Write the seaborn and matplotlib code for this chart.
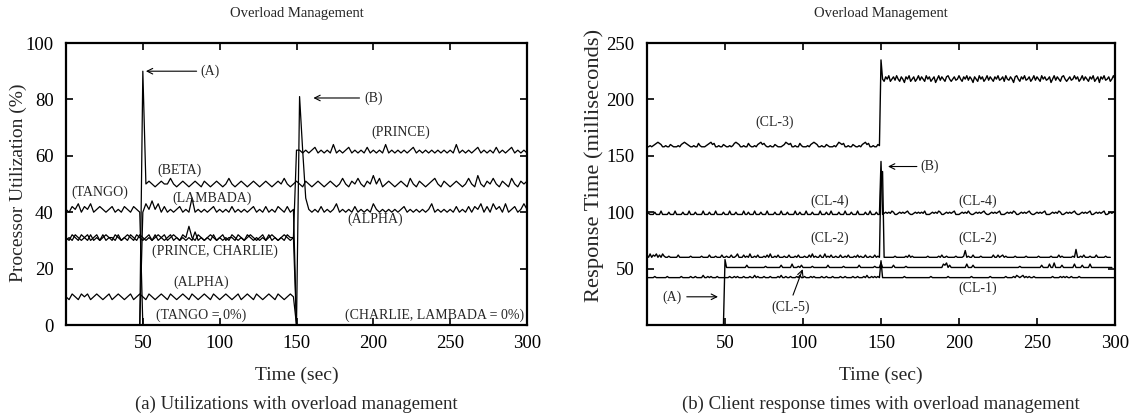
import numpy as np
import pandas as pd
import matplotlib
matplotlib.use("Agg")
import matplotlib.pyplot as plt
import seaborn as sns

# ---------------- data: (a) processor utilization (%), sampled every 2 s ----------------
STEP_A = 2
TANGO_T0 = 0
TANGO = [41,40,42,41,43,40,42,41,43,40,41,42,41,40,41,42,40,41,40,42,41,40,42,41,40,0]
LAMBADA_T0 = 48
LAMBADA = [0,
           40,43,41,44,41,43,40,42,40,41, 40,41,42,40,41,40,45,40,41,40,
           41,40,41,42,40,41,40,41,40,42, 40,41,40,41,40,41,42,40,41,40,
           42,40,41,40,42,41,40,42,40,41,
           0]
PRINCE_T0 = 0
PRINCE = [31,30,32,31,30,32,31,32,30,31, 32,30,31,32,31,30,32,31,30,31,
          32,31,30,32,31,30,31,32,30,31, 32,31,30,31,32,30,31,30,32,31,
          35,31,30,32,31,30,31,32,31,30, 31,32,30,31,31,30,32,31,30,31,
          32,31,30,31,32,30,31,32,31,30, 31,32,31,30,31,
          62,62,61,62,61,62,63,61,62,61, 62,61,64,61,62,61,62,63,61,62,
          61,62,61,63,61,62,61,62,61,64, 61,62,61,62,61,62,61,62,63,61,
          62,61,62,61,62,61,62,61,62,61, 62,61,64,61,62,61,62,61,62,63,
          61,62,61,62,61,63,61,62,61,62, 63,61,62,61,62,61]
CHARLIE_T0 = 0
CHARLIE = [30,31,30,32,31,30,31,30,32,30, 31,30,32,30,31,31,30,32,30,31,
           30,32,31,30,32,31,30,31,30,32, 30,31,32,30,31,32,31,30,31,30,
           31,30,33,30,31,30,31,30,32,30, 31,30,31,30,32,31,30,31,30,32,
           31,30,31,30,31,30,32,30,31,30, 31,30,32,31,31,
           0]
ALPHA_T0 = 0
ALPHA = [10,9,11,10,9,11,10,11,9,10, 11,10,9,10,11,9,10,11,10,9,
         10,11,9,10,11,10,9,11,10,9, 10,11,10,9,11,10,9,10,11,10,
         9,11,10,9,10,11,10,9,11,10, 9,10,11,10,9,10,11,9,10,11,
         10,9,11,10,9,10,11,10,9,11, 10,9,10,11,10,
         0,81,62,45,
         41,40,41,40,42,40,41,40,41,43, 40,41,40,41,40,42,40,41,40,41,
         40,43,41,40,41,40,41,40,41,40, 41,42,40,41,40,41,40,41,40,41,
         43,40,41,40,41,40,41,40,42,40, 41,40,42,40,42,41,43,40,42,40,
         43,41,42,40,43,40,41,42,40,41, 43,41]
BETA_T0 = 48
BETA = [0, 90,
        50,51,50,49,50,51,50,50,52,50, 49,50,51,50,49,50,51,50,49,51,
        50,49,50,51,50,49,50,52,50,49, 50,51,50,49,50,51,50,49,50,51,
        50,49,50,51,50,52,50,49,50,51, 50,49,51,50,49,50,51,50,49,50,
        51,50,49,50,52,50,49,51,50,52, 50,49,51,50,53,50,52,49,50,51,
        50,49,50,51,50,49,52,50,49,51, 50,49,50,51,52,50,49,51,50,49,
        50,51,50,49,50,52,50,49,53,50, 49,51,50,52,50,49,51,50,49,52,
        50,49,51,50,51]

# ---------------- data: (b) client response times (ms), sampled every 1 s ----------------
STEP_B = 1
CL3_T0 = 0
CL3 = [158,158,159,158,159,160,161,162,161,160,158,158,159,158,158,160,159,158,158,158,159,158,160,161,162,
       161,160,159,158,158,159,158,158,161,159,158,158,158,159,160,161,162,160,161,158,158,159,158,158,160,
       159,158,158,159,158,159,161,162,161,160,158,158,159,158,158,161,159,158,158,159,158,160,161,162,160,
       161,159,158,158,159,158,158,160,159,158,158,158,159,160,162,161,160,161,158,158,159,158,158,161,159,
       158,158,158,159,158,160,161,162,161,160,158,158,159,158,158,160,159,158,158,158,159,158,160,162,161,
       160,161,158,158,159,158,158,160,159,158,158,159,158,160,161,162,160,161,158,158,159,158,158,160,159,
       235,
       218,216,220,218,221,216,218,220,217,221,218,216,220,218,215,220,218,221,216,218,220,216,218,221,217,
       220,218,216,221,218,220,216,218,220,215,218,221,217,220,218,216,220,221,218,216,218,220,217,218,221,
       218,216,220,218,221,217,220,218,215,220,218,216,221,218,220,216,218,221,217,220,218,216,220,218,221,
       217,218,220,216,221,218,217,220,218,215,220,221,218,216,220,218,221,217,218,220,216,218,221,217,220,
       218,216,221,218,220,217,218,220,215,218,221,217,220,218,216,220,221,218,216,218,220,217,218,221,218,
       220,216,218,221,217,220,218,216,220,218,221,216,218,220,215,220,218,221,217,218,220,216,218,221,218]
CL4_T0 = 0
CL4 = [100,99,98,98,98,100,98,98,98,101,98,98,98,98,100,98,98,98,101,98,98,98,98,100,98,
       98,98,101,98,98,98,100,98,98,98,98,101,98,98,98,100,98,98,98,101,98,98,98,98,100,
       98,98,98,101,98,98,98,100,98,98,98,98,101,98,98,100,98,98,98,101,98,98,98,100,98,
       98,98,101,98,98,98,98,100,98,98,98,101,98,98,98,100,98,98,98,98,101,98,98,100,98,
       98,98,101,98,98,98,100,98,98,98,98,101,98,98,98,100,98,98,101,98,98,98,98,100,98,
       98,98,101,98,98,98,100,98,98,98,101,98,98,98,98,100,98,98,101,98,98,98,100,98,98,
       145,98,99,100,99,100,99,101,100,98,98,99,100,99,100,99,100,101,99,98,98,99,100,99,100,
       99,100,99,101,98,98,98,99,100,99,100,99,101,100,98,98,99,100,99,100,99,100,101,98,98,
       98,99,100,99,100,99,101,99,98,98,99,100,99,100,99,100,101,99,98,98,99,100,99,100,99,
       100,101,98,98,98,99,100,99,100,99,101,100,98,98,99,100,99,100,99,100,101,99,98,98,99,
       100,99,100,99,100,101,98,98,98,99,100,99,100,99,101,100,98,98,99,100,99,100,99,100,101,
       99,98,98,99,100,99,100,99,100,101,98,98,99,100,99,100,99,100,101,98,98,99,100,99,100,
       100]
CL2_T0 = 0
CL2 = [62,60,63,60,62,61,63,60,62,60,63,61,60,60,61,60,60,60,60,60,62,60,60,60,60,
       60,60,60,61,60,60,60,60,60,60,61,60,60,60,60,62,60,60,60,61,60,60,60,62,60,
       60,61,60,60,62,60,60,61,63,60,60,60,62,60,61,60,63,60,60,61,60,62,60,60,60,
       61,60,62,60,63,60,60,61,60,62,60,60,60,61,60,60,62,60,60,60,61,60,62,60,60,
       60,61,60,60,62,60,63,60,61,60,60,62,60,60,63,60,61,60,62,60,60,61,60,60,62,
       60,60,61,60,62,60,60,60,61,60,62,60,61,60,60,62,60,60,61,60,60,62,60,61,60,
       136,136,60,60,60,60,60,60,60,61,60,60,60,60,60,60,61,60,62,60,61,60,60,60,60,
       60,60,60,60,60,61,60,60,60,60,60,60,61,60,62,60,60,61,60,60,60,60,60,61,60,
       60,60,60,61,66,60,61,60,60,62,60,60,60,60,61,60,60,60,60,60,60,60,62,60,60,
       62,60,61,62,60,61,60,60,60,60,60,61,60,60,60,60,60,60,61,60,60,60,60,60,60,
       60,61,60,60,60,60,60,60,60,61,60,60,60,60,62,60,61,60,60,60,60,60,60,61,60,
       67,60,60,61,60,62,60,60,60,61,60,60,60,62,60,60,60,60,60,61,60,60,60]
CL5_T0 = 49
CL5 = [0,58,51,51,51,51,51,51,51,51,51,51,51,51,51,53,51,51,51,51,51,51,51,51,51,
       51,51,52,51,51,51,51,51,51,51,51,51,53,51,51,51,51,51,51,54,51,51,51,52,51,
       53,51,51,51,51,51,51,52,51,51,51,51,51,51,51,51,51,53,51,51,51,51,51,51,51,
       51,51,52,51,51,51,51,51,51,51,51,51,53,51,51,51,51,51,51,51,51,51,52,51,51,
       51,55,51,51,51,51,51,51,51,53,51,51,51,51,51,51,51,52,51,51,51,51,51,51,51,
       51,51,51,51,51,51,51,51,51,51,51,51,51,51,51,51,54,53,55,51,53,51,51,51,51,
       51,51,51,51,51,51,54,51,51,51,53,51,51,51,51,51,51,51,51,51,51,51,51,51,51,
       51,51,51,51,51,51,51,51,51,51,51,51,51,51,51,52,51,51,51,51,51,51,51,51,51,
       51,51,51,51,53,51,51,51,51,54,51,51,55,51,51,51,51,53,51,51,51,51,51,51,51,
       54,51,51,51,51,53,51,51,51,51,54,51,51,51,51,51,51,51,51,51,51,51,51,51,51]
CL1_T0 = 0
CL1 = [42,42,42,42,42,43,42,42,42,42,42,42,42,43,42,42,42,42,42,42,42,42,43,42,42,
       42,42,42,43,42,42,43,42,42,42,42,44,42,42,43,42,43,42,42,42,43,42,42,42,42,
       42,42,42,43,42,42,43,42,43,42,42,42,43,42,42,42,43,42,42,44,42,43,42,42,42,
       43,42,42,42,43,42,42,42,42,43,42,44,42,42,43,42,42,43,42,42,42,43,42,44,42,
       42,43,42,42,42,43,42,43,42,42,42,42,43,42,42,43,42,42,42,43,42,42,42,42,43,
       42,42,43,42,42,42,42,43,42,42,43,42,42,42,43,42,44,42,42,43,42,43,42,43,42,
       57,42,42,42,42,42,42,42,42,42,42,42,42,42,42,43,42,42,42,42,42,42,42,42,42,
       42,42,42,42,42,42,42,43,42,42,42,42,42,42,42,42,42,42,43,42,42,42,42,42,42,
       42,42,42,42,42,42,42,42,43,42,42,42,42,42,42,42,42,42,42,42,43,42,42,42,42,
       42,42,42,42,42,43,42,42,42,42,43,42,44,43,42,43,44,42,43,42,43,42,42,43,42,
       42,42,42,42,42,42,42,42,42,42,43,42,42,42,42,43,42,43,42,43,42,42,43,42,42,
       42,42,43,42,42,42,42,42,42,42,42,42,42,42,42,42,42,42,42,42,42,42,42,42,42,
       42]

XTICKS = [50, 100, 150, 200, 250, 300]
YTICKS_A = [0, 20, 40, 60, 80, 100]
YTICKS_B = [50, 100, 150, 200, 250]

TITLE = "Overload Management"
XLABEL = "Time (sec)"
YLABEL_A = "Processor Utilization (%)"
YLABEL_B = "Response Time (milliseconds)"
CAPTION_A = "(a) Utilizations with overload management"
CAPTION_B = "(b) Client response times with overload management"

# ---------------- style ----------------
sns.set_theme(style="ticks")
plt.rcParams['font.family'] = ['Liberation Serif', 'DejaVu Serif']
plt.rcParams['mathtext.fontset'] = 'stix'

W, H = 1133, 420
fig = plt.figure(figsize=(W / 100, H / 100), dpi=100)
fig.patch.set_facecolor("white")

ax_a = fig.add_axes([66 / W, 95 / H, 461 / W, 282 / H])
ax_b = fig.add_axes([647 / W, 95 / H, 468 / W, 282 / H])


def draw(ax, t0, step, vals, lw=0.9):
    t = t0 + step * np.arange(len(vals))
    df = pd.DataFrame({"t": t, "v": vals})
    sns.lineplot(data=df, x="t", y="v", ax=ax, color="black", lw=lw,
                 estimator=None, sort=False, legend=False)


for t0, vals in [(TANGO_T0, TANGO), (LAMBADA_T0, LAMBADA), (PRINCE_T0, PRINCE),
                 (CHARLIE_T0, CHARLIE), (ALPHA_T0, ALPHA), (BETA_T0, BETA)]:
    draw(ax_a, t0, STEP_A, vals, lw=0.9)

for t0, vals in [(CL3_T0, CL3), (CL4_T0, CL4), (CL2_T0, CL2), (CL5_T0, CL5), (CL1_T0, CL1)]:
    draw(ax_b, t0, STEP_B, vals, lw=1.0)


def style(ax, yticks, ymax, ylabel, caption, ylab_x, ylab_y, ylab_fs):
    ax.set_xlim(0, 300)
    ax.set_ylim(0, ymax)
    ax.set_xticks(XTICKS)
    ax.set_yticks(yticks)
    ax.set_xlabel("")
    ax.set_ylabel("")
    ax.set_facecolor("white")
    for s in ax.spines.values():
        s.set_visible(True)
        s.set_linewidth(1.6)
        s.set_color("black")
    ax.tick_params(axis="both", direction="in", length=5, width=1.2, colors="black",
                   top=True, right=True, labelsize=13.5)
    ax.tick_params(axis="x", pad=7)
    ax.tick_params(axis="y", pad=9)
    ax.text(0.5, 1 + 30 / 282, TITLE, transform=ax.transAxes, ha="center", va="center", fontsize=10.5)
    ax.text(0.5, -50 / 282, XLABEL, transform=ax.transAxes, ha="center", va="center", fontsize=14)
    ax.text(0.5, -79 / 282, caption, transform=ax.transAxes, ha="center", va="center", fontsize=13.5)
    ax.text(ylab_x, ylab_y, ylabel, transform=ax.transAxes, ha="center", va="center",
            rotation=90, fontsize=ylab_fs)


style(ax_a, YTICKS_A, 100, YLABEL_A, CAPTION_A, -48 / 461, 0.505, 14)
style(ax_b, YTICKS_B, 250, YLABEL_B, CAPTION_B, -53 / 468, 0.565, 16.2)

FS = 10
arrow = dict(arrowstyle="->", lw=0.8, color="black", shrinkA=0, shrinkB=0, mutation_scale=10)

# panel (a) annotations
ax_a.annotate("", xy=(52, 90), xytext=(85, 90), arrowprops=arrow)
ax_a.text(94, 90, "(A)", ha="center", va="center", fontsize=FS)
ax_a.annotate("", xy=(161, 80.5), xytext=(191, 80.5), arrowprops=arrow)
ax_a.text(200, 80.5, "(B)", ha="center", va="center", fontsize=FS)
for x, y, s in [(218, 68.5, "(PRINCE)"), (74, 55, "(BETA)"), (22, 47, "(TANGO)"),
                (95, 45, "(LAMBADA)"), (201, 37.5, "(ALPHA)"), (97, 26, "(PRINCE, CHARLIE)"),
                (88, 15, "(ALPHA)"), (88, 3.6, "(TANGO = 0%)"), (240, 3.6, "(CHARLIE, LAMBADA = 0%)")]:
    ax_a.text(x, y, s, ha="center", va="center", fontsize=FS)

# panel (b) annotations
ax_b.annotate("", xy=(45.5, 25), xytext=(25.5, 25), arrowprops=arrow)
ax_b.text(16, 25, "(A)", ha="center", va="center", fontsize=FS)
ax_b.annotate("", xy=(154.5, 140.5), xytext=(173, 140.5), arrowprops=arrow)
ax_b.text(181, 140.5, "(B)", ha="center", va="center", fontsize=FS)
ax_b.annotate("", xy=(99.8, 49.5), xytext=(93.6, 26.5), arrowprops=arrow)
for x, y, s in [(82, 180, "(CL-3)"), (117, 110, "(CL-4)"), (212, 110, "(CL-4)"),
                (117, 77, "(CL-2)"), (212, 77, "(CL-2)"), (212, 33, "(CL-1)"), (92, 16, "(CL-5)")]:
    ax_b.text(x, y, s, ha="center", va="center", fontsize=FS)

fig.savefig("out.png", dpi=100, facecolor="white")
